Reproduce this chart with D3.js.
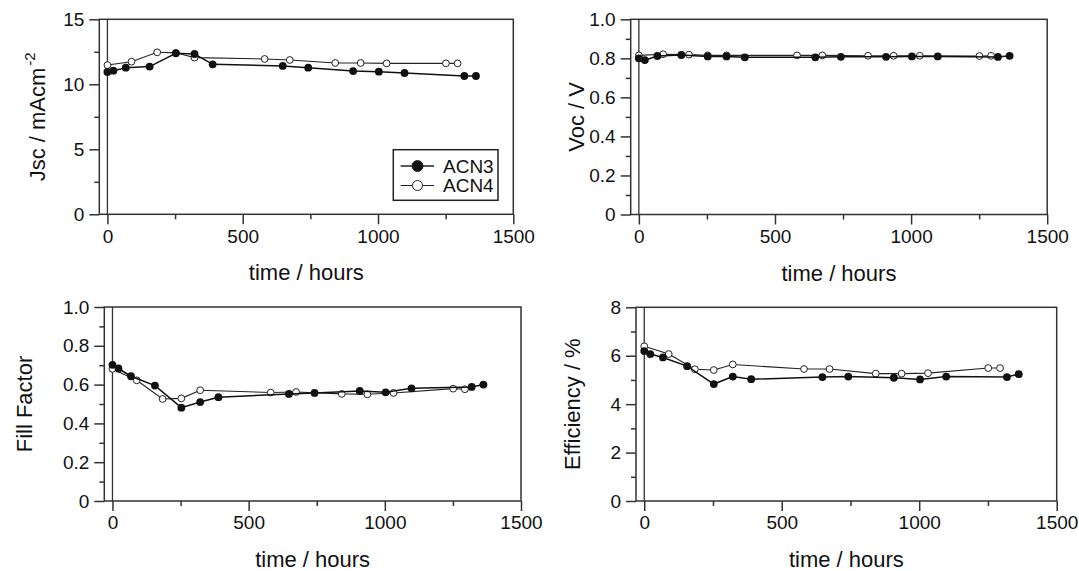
<html>
<script src='https://d3js.org/d3.v7.min.js'></script>
<style>
body {margin: 0; background: white;}
text {font-family: Arial, "Liberation Sans", sans-serif; fill: #111;}
.frame {fill: none; stroke: #333; stroke-width: 1.5;}
.tick line {stroke: #333; stroke-width: 1.5;}
</style>
<body>
<svg width=1079 height=571></svg>
<script>
// time points (hours)
var tACN3 = [0, 22, 68, 156, 253, 322, 389, 648, 742, 908, 1003, 1098, 1319, 1362];
var tACN4 = [0, 89, 184, 253, 322, 581, 674, 842, 936, 1032, 1251, 1294];

var jscACN3 = [10.95, 11.05, 11.28, 11.36, 12.38, 12.33, 11.54, 11.41, 11.28, 11.02, 10.97, 10.87, 10.64, 10.64];
var jscACN4 = [11.48, 11.74, 12.46, 12.42, 12.05, 11.95, 11.87, 11.64, 11.64, 11.61, 11.61, 11.61];

var vocACN3 = [0.800, 0.791, 0.812, 0.817, 0.810, 0.810, 0.805, 0.805, 0.808, 0.808, 0.810, 0.810, 0.807, 0.813];
var vocACN4 = [0.815, 0.821, 0.819, 0.815, 0.815, 0.815, 0.815, 0.813, 0.813, 0.813, 0.812, 0.813];

var ffACN3 = [0.702, 0.683, 0.643, 0.595, 0.481, 0.510, 0.535, 0.552, 0.557, 0.567, 0.560, 0.581, 0.588, 0.600];
var ffACN4 = [0.681, 0.622, 0.526, 0.529, 0.571, 0.559, 0.562, 0.552, 0.550, 0.557, 0.579, 0.576];

var effACN3 = [6.19, 6.07, 5.93, 5.57, 4.83, 5.14, 5.03, 5.12, 5.14, 5.09, 5.02, 5.14, 5.12, 5.24];
var effACN4 = [6.39, 6.07, 5.44, 5.41, 5.64, 5.45, 5.45, 5.26, 5.26, 5.28, 5.49, 5.49];

var xMajor = [0, 500, 1000, 1500];
var xMinor = [250, 750, 1250];
var seriesNames = ["ACN3", "ACN4"];

var panels = [
  {box: [99.3, 19.3, 513.3, 214.3], ymax: 15, yMajor: [0, 5, 10, 15], yMinor: [2.5, 7.5, 12.5],
   fmt: d3.format("d"), a: jscACN3, b: jscACN4, title: "Jsc / mAcm", sup: "-2", titleX: 45, legend: true},
  {box: [630.7, 19.3, 1047.2, 214.5], ymax: 1, yMajor: [0, 0.2, 0.4, 0.6, 0.8, 1.0], yMinor: [0.1, 0.3, 0.5, 0.7, 0.9],
   fmt: function(d) { return d == 0 ? "0" : d3.format(".1f")(d); }, a: vocACN3, b: vocACN4, title: "Voc / V", titleX: 584},
  {box: [104.3, 307, 521, 501], ymax: 1, yMajor: [0, 0.2, 0.4, 0.6, 0.8, 1.0], yMinor: [0.1, 0.3, 0.5, 0.7, 0.9],
   fmt: function(d) { return d == 0 ? "0" : d3.format(".1f")(d); }, a: ffACN3, b: ffACN4, title: "Fill Factor", titleX: 32},
  {box: [636, 307.3, 1056.7, 501], ymax: 8, yMajor: [0, 2, 4, 6, 8], yMinor: [1, 3, 5, 7],
   fmt: d3.format("d"), a: effACN3, b: effACN4, title: "Efficiency / %", titleX: 580}
];

var svg = d3.select("svg");

panels.forEach(function(p) {
  var x0 = p.box[0], y0 = p.box[1], x1 = p.box[2], y1 = p.box[3];
  var x = d3.scaleLinear().domain([-30, 1500]).range([x0, x1]);
  var y = d3.scaleLinear().domain([0, p.ymax]).range([y1, y0]);
  var g = svg.append("g");

  // axes with major + minor ticks
  g.append("g").attr("transform", "translate(0," + y1 + ")")
    .call(d3.axisBottom(x).tickValues(xMajor).tickSize(10).tickPadding(5).tickFormat(d3.format("d")))
    .call(function(s) { s.select(".domain").remove(); s.selectAll("text").style("font-size", "19px").attr("font-family", null); });
  g.append("g").attr("transform", "translate(0," + y1 + ")")
    .call(d3.axisBottom(x).tickValues(xMinor).tickSize(5).tickFormat(""))
    .call(function(s) { s.select(".domain").remove(); });
  g.append("g").attr("transform", "translate(" + x0 + ",0)")
    .call(d3.axisLeft(y).tickValues(p.yMajor).tickSize(10).tickPadding(5).tickFormat(p.fmt))
    .call(function(s) { s.select(".domain").remove(); s.selectAll("text").style("font-size", "19px").attr("font-family", null); });
  g.append("g").attr("transform", "translate(" + x0 + ",0)")
    .call(d3.axisLeft(y).tickValues(p.yMinor).tickSize(5).tickFormat(""))
    .call(function(s) { s.select(".domain").remove(); });

  g.append("rect").attr("class", "frame")
    .attr("x", x0).attr("y", y0).attr("width", x1 - x0).attr("height", y1 - y0);
  g.append("line").attr("x1", x(0)).attr("x2", x(0)).attr("y1", y0).attr("y2", y1)
    .attr("stroke", "#333").attr("stroke-width", 1.3);

  // x title
  g.append("text").attr("x", (x0 + x1) / 2).attr("y", y1 + 66)
    .attr("text-anchor", "middle").style("font-size", "22px").text("time / hours");

  // y title
  var yt = g.append("text")
    .attr("transform", "translate(" + p.titleX + "," + ((y0 + y1) / 2) + ") rotate(-90)")
    .attr("text-anchor", "middle").style("font-size", "22px").text(p.title);
  if (p.sup) yt.append("tspan").attr("dx", 2).attr("dy", -10).style("font-size", "15px").text(p.sup);

  var line = d3.line().x(function(d) { return x(d[0]); }).y(function(d) { return y(d[1]); });
  var d4 = d3.zip(tACN4, p.b), d3s = d3.zip(tACN3, p.a);

  g.append("path").datum(d4).attr("d", line).attr("fill", "none").attr("stroke", "#222").attr("stroke-width", 1.1);
  g.selectAll(".o4").data(d4).enter().append("circle")
    .attr("cx", function(d) { return x(d[0]); }).attr("cy", function(d) { return y(d[1]); })
    .attr("r", 3.4).attr("fill", "white").attr("stroke", "#222").attr("stroke-width", 1);

  g.append("path").datum(d3s).attr("d", line).attr("fill", "none").attr("stroke", "#111").attr("stroke-width", 1.5);
  g.selectAll(".o3").data(d3s).enter().append("circle")
    .attr("cx", function(d) { return x(d[0]); }).attr("cy", function(d) { return y(d[1]); })
    .attr("r", 3.9).attr("fill", "#111");

  if (p.legend) {
    var lg = g.append("g");
    lg.append("rect").attr("x", 393.3).attr("y", 149.7).attr("width", 104.7).attr("height", 50.6)
      .attr("fill", "white").attr("stroke", "#222").attr("stroke-width", 1.5);
    seriesNames.forEach(function(name, i) {
      var ly = 166 + i * 19.5;
      lg.append("line").attr("x1", 400.7).attr("x2", 434).attr("y1", ly).attr("y2", ly)
        .attr("stroke", "#222").attr("stroke-width", i == 0 ? 1.5 : 1.1);
      lg.append("circle").attr("cx", 417.5).attr("cy", ly).attr("r", i == 0 ? 5.5 : 5)
        .attr("fill", i == 0 ? "#111" : "white").attr("stroke", "#222").attr("stroke-width", 1);
      lg.append("text").attr("x", 443).attr("y", ly + 6.5).style("font-size", "19px").text(name);
    });
  }
});
</script>
</body>
</html>
